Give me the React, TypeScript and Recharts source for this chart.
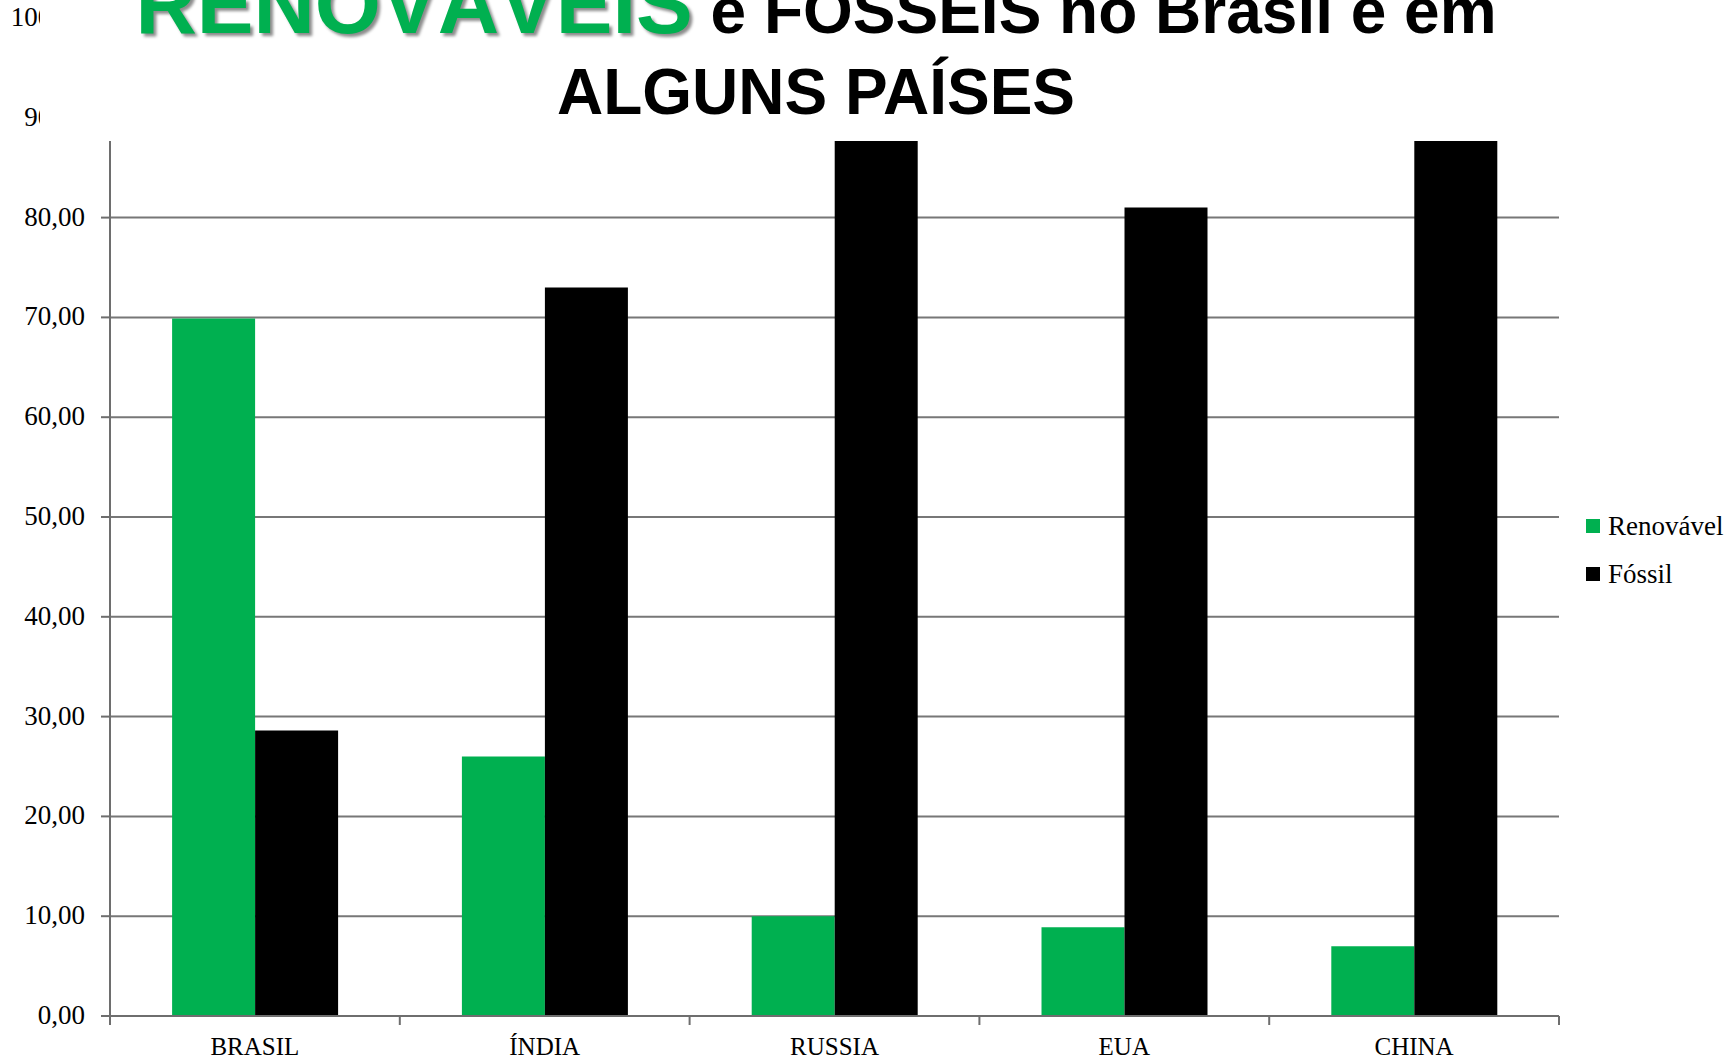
import React from 'react';
import { BarChart, Bar, XAxis, YAxis, CartesianGrid } from 'recharts';

const countries = ['BRASIL', 'ÍNDIA', 'RUSSIA', 'EUA', 'CHINA'];
const renovavel = [69.9, 26.0, 10.0, 8.9, 7.0];
const fossil = [28.6, 73.0, 90.0, 81.0, 92.0];
const yTicks = [0, 10, 20, 30, 40, 50, 60, 70, 80, 90, 100];
const seriesNames = ['Renovável', 'Fóssil'];
const seriesColors = ['#00B050', '#000000'];

const data = countries.map((c, i) => ({ name: c, renovavel: renovavel[i], fossil: fossil[i] }));

const SERIF = '"Liberation Serif", "Times New Roman", serif';
const SANS = '"Liberation Sans", Arial, sans-serif';

const CatTick = (props: any) => {
  const { x, y, payload, index, visibleTicksCount, width } = props;
  const half = payload && typeof payload.offset === 'number' && payload.offset > 0
    ? payload.offset
    : width / visibleTicksCount / 2;
  const axisY = y - 9;
  return (
    <g>
      <line x1={x - half} x2={x - half} y1={axisY} y2={axisY + 9} stroke="#6e6e6e" strokeWidth={2} />
      {index === visibleTicksCount - 1 && (
        <line x1={x + half} x2={x + half} y1={axisY} y2={axisY + 9} stroke="#6e6e6e" strokeWidth={2} />
      )}
      <text x={x} y={axisY + 39} textAnchor="middle" fontFamily={SERIF} fontSize={25} fill="#000">
        {payload.value}
      </text>
    </g>
  );
};

const YTick = (props: any) => {
  const { x, y, payload } = props;
  return (
    <text x={x} y={y} dy={8} textAnchor="end" fontFamily={SERIF} fontSize={27} fill="#000">
      {Number(payload.value).toFixed(2).replace('.', ',')}
    </text>
  );
};

export default function App() {
  return (
    <div style={{ position: 'absolute', left: 0, top: 0, width: 1731, height: 1061, background: '#fff', overflow: 'hidden' }}>
      <BarChart
        width={1731}
        height={1061}
        data={data}
        margin={{ top: 18, right: 172, left: 0, bottom: 0 }}
        barCategoryGap="21.43%"
        barGap={0}
      >
        <CartesianGrid vertical={false} stroke="#777" strokeWidth={2} />
        <XAxis
          dataKey="name"
          height={45}
          interval={0}
          tickLine={false}
          tickSize={9}
          tickMargin={0}
          axisLine={{ stroke: '#6e6e6e', strokeWidth: 2 }}
          tick={<CatTick />}
        />
        <YAxis
          width={110}
          domain={[0, 100]}
          ticks={yTicks}
          interval={0}
          tickSize={9}
          tickMargin={16}
          tickLine={{ stroke: '#6e6e6e', strokeWidth: 2 }}
          axisLine={{ stroke: '#6e6e6e', strokeWidth: 2 }}
          tick={<YTick />}
        />
        <Bar dataKey="renovavel" name={seriesNames[0]} fill={seriesColors[0]} isAnimationActive={false} />
        <Bar dataKey="fossil" name={seriesNames[1]} fill={seriesColors[1]} isAnimationActive={false} />
      </BarChart>
      <div style={{ position: 'absolute', left: 1586, top: 502, fontFamily: SERIF, fontSize: 27, color: '#000' }}>
        {seriesNames.map((n, i) => (
          <div key={n} style={{ display: 'flex', alignItems: 'center', height: 48, whiteSpace: 'nowrap' }}>
            <span style={{ display: 'inline-block', width: 14, height: 14, background: seriesColors[i], marginRight: 8 }} />
            <span>{n}</span>
          </div>
        ))}
      </div>
      <svg width={1731} height={141} style={{ position: 'absolute', left: 0, top: 0, pointerEvents: 'none' }}>
        <defs>
          <filter id="blur" x="-5%" y="-20%" width="110%" height="150%">
            <feGaussianBlur stdDeviation="1.5" />
          </filter>
        </defs>
        <rect x={40} y={0} width={1691} height={141} fill="#fff" />
        <text x={819} y={36} textAnchor="middle" fontFamily={SANS} fontWeight="bold" filter="url(#blur)">
          <tspan fill="#000" fillOpacity={0.45} fontSize={85}>RENOVÁVEIS</tspan>
          <tspan fill="none" fontSize={64}> e FÓSSEIS no Brasil e em</tspan>
        </text>
        <text x={816} y={33} textAnchor="middle" fontFamily={SANS} fontWeight="bold">
          <tspan fill="#00B050" fontSize={85}>RENOVÁVEIS</tspan>
          <tspan fill="#000" fontSize={64}> e FÓSSEIS no Brasil e em</tspan>
        </text>
        <text x={816} y={114} textAnchor="middle" fontFamily={SANS} fontWeight="bold" fontSize={64} fill="#000">
          ALGUNS PAÍSES
        </text>
      </svg>
    </div>
  );
}
